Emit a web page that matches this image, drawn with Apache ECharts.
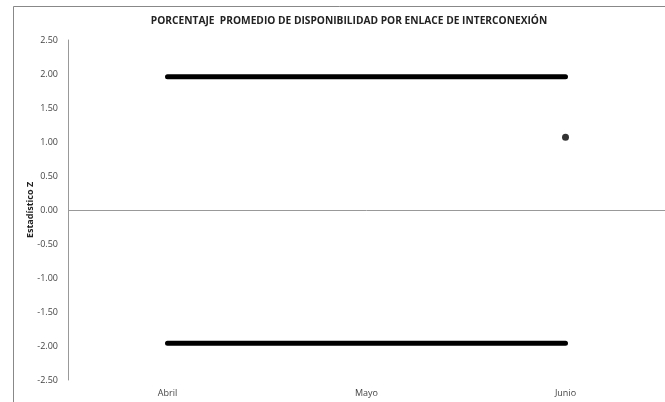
<!DOCTYPE html>
<html>
<head>
<meta charset="utf-8">
<script src="https://cdn.jsdelivr.net/npm/echarts@6/dist/echarts.min.js"></script>
<style>html,body{margin:0;padding:0;background:#fff}#c{width:665px;height:402px}</style>
</head>
<body>
<div id="c"></div>
<script>
const categories = ['Abril', 'Mayo', 'Junio'];
const upperLimit = [1.96, 1.96, 1.96];
const lowerLimit = [-1.96, -1.96, -1.96];
const zValues = [null, null, 1.07];
const yTicks = { min: -2.5, max: 2.5, interval: 0.5 };

const chart = echarts.init(document.getElementById('c'));
const font = '"Open Sans", "Liberation Sans", sans-serif';
chart.setOption({
  animation: false,
  backgroundColor: '#fff',
  title: {
    text: 'PORCENTAJE  PROMEDIO DE DISPONIBILIDAD POR ENLACE DE INTERCONEXIÓN',
    left: 344, top: 11, textAlign: 'center',
    textStyle: { fontFamily: font, fontSize: 10.2, fontWeight: 'bold', color: '#222' }
  },
  graphic: [{
    type: 'rect', left: 11, top: 4, silent: true,
    shape: { width: 700, height: 450 },
    style: { fill: 'none', stroke: '#888', lineWidth: 1 }
  }],
  grid: { left: 68, right: 0, top: 40, bottom: 22 },
  xAxis: {
    type: 'category', data: categories, boundaryGap: true,
    axisLine: { show: false }, axisTick: { show: false },
    axisLabel: { fontFamily: font, fontSize: 9, color: '#444', margin: 9 }
  },
  yAxis: {
    type: 'value', min: yTicks.min, max: yTicks.max, interval: yTicks.interval,
    name: 'Estadístico Z', nameLocation: 'middle', nameGap: 33, nameMoveOverlap: false,
    nameTextStyle: { fontFamily: font, fontSize: 9, fontWeight: 'bold', color: '#222' },
    axisLine: { show: true, lineStyle: { color: '#999', width: 1 } },
    axisTick: { show: false }, splitLine: { show: false },
    axisLabel: { fontFamily: font, fontSize: 9, color: '#444', margin: 10,
      formatter: v => v.toFixed(2) }
  },
  series: [
    { type: 'line', data: upperLimit, symbol: 'none',
      lineStyle: { color: '#000', width: 5, cap: 'round' },
      markLine: { silent: true, symbol: 'none', label: { show: false },
        lineStyle: { color: '#999', width: 1, type: 'solid' }, data: [{ yAxis: 0 }] } },
    { type: 'line', data: lowerLimit, symbol: 'none',
      lineStyle: { color: '#000', width: 5, cap: 'round' } },
    { type: 'scatter', data: zValues, symbol: 'circle', symbolSize: 7,
      itemStyle: { color: '#000' } }
  ]
});
</script>
</body>
</html>
